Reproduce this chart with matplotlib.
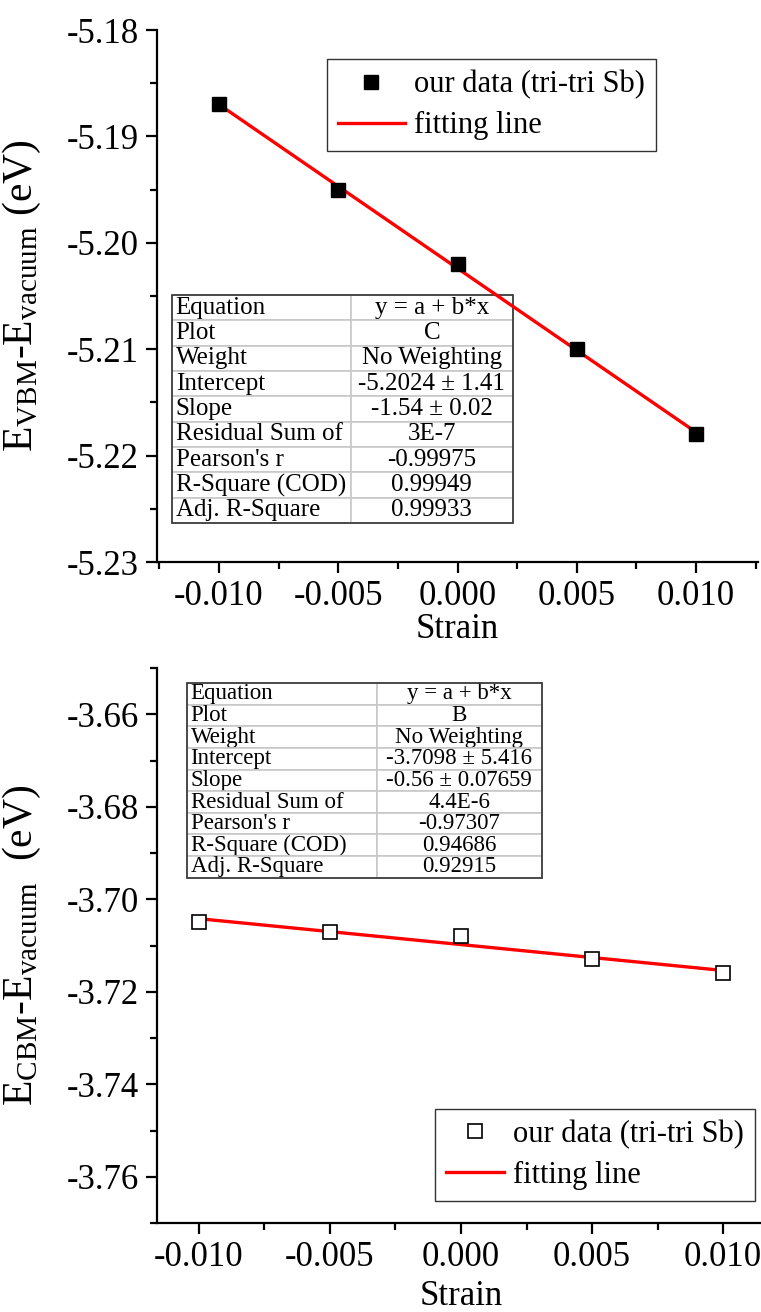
import numpy as np
import matplotlib
matplotlib.use("Agg")
import matplotlib.pyplot as plt
from matplotlib.ticker import MultipleLocator, FormatStrFormatter

plt.rcParams["font.family"] = ["Liberation Serif", "DejaVu Serif"]
plt.rcParams["mathtext.fontset"] = "custom"
plt.rcParams["mathtext.rm"] = "Liberation Serif"
plt.rcParams["mathtext.it"] = "Liberation Serif:italic"

strain = [-0.010, -0.005, 0.000, 0.005, 0.010]
vbm = [-5.187, -5.195, -5.202, -5.210, -5.218]
cbm = [-3.705, -3.707, -3.708, -3.713, -3.716]

stat_names = ["Equation", "Plot", "Weight", "Intercept", "Slope",
              "Residual Sum of", "Pearson's r", "R-Square (COD)", "Adj. R-Square"]
vbm_stats = ["y = a + b*x", "C", "No Weighting", "-5.2024 \u00b1 1.41",
             "-1.54 \u00b1 0.02", "3E-7", "-0.99975", "0.99949", "0.99933"]
cbm_stats = ["y = a + b*x", "B", "No Weighting", "-3.7098 \u00b1 5.416",
             "-0.56 \u00b1 0.07659", "4.4E-6", "-0.97307", "0.94686", "0.92915"]

W, H = 761, 1312
fig = plt.figure(figsize=(W / 100, H / 100), dpi=100)


def px_axes(x0, y0, x1, y1):
    return fig.add_axes([x0 / W, 1 - y1 / H, (x1 - x0) / W, (y1 - y0) / H])


ax1 = px_axes(157, 30, 758, 562)
ax2 = px_axes(157, 668, 765, 1223)


def style(ax, ylim, ymaj, xlim, xpad):
    for s in ["top", "right"]:
        ax.spines[s].set_visible(False)
    for s in ["left", "bottom"]:
        ax.spines[s].set_linewidth(1.6)
    ax.set_xlim(*xlim)
    ax.set_ylim(*ylim)
    ax.xaxis.set_major_locator(MultipleLocator(0.005))
    ax.xaxis.set_minor_locator(MultipleLocator(0.0025))
    ax.yaxis.set_major_locator(MultipleLocator(ymaj))
    ax.yaxis.set_minor_locator(MultipleLocator(ymaj / 2))
    ax.xaxis.set_major_formatter(FormatStrFormatter("%.3f"))
    ax.tick_params(which="major", direction="out", length=8, width=1.6,
                   labelsize=25, pad=5)
    ax.tick_params(which="minor", direction="out", length=5, width=1.6)
    ax.set_xlabel("Strain", fontsize=25, labelpad=xpad)


def stats_table(ax, values, bbox, c0, fs):
    rows = [[n, v] for n, v in zip(stat_names, values)]
    tab = ax.table(cellText=rows, colWidths=[c0, 1 - c0], bbox=bbox,
                   cellLoc="center", zorder=1)
    tab.auto_set_font_size(False)
    tab.set_fontsize(fs)
    for (r, c), cell in tab.get_celld().items():
        cell.set_edgecolor("#c8c8c8")
        cell.set_linewidth(1.2)
        cell.set_facecolor("white")
        if c == 0:
            cell.get_text().set_ha("left")
            cell.PAD = 0.02
    x0, y0, w, h = bbox
    ax.add_patch(plt.Rectangle((x0, y0), w, h, transform=ax.transAxes,
                               fill=False, ec="#333333", lw=1.2, zorder=3))


def legend(ax, anchor, loc, hl):
    leg = ax.legend(loc=loc, bbox_to_anchor=anchor, fontsize=22,
                    frameon=True, fancybox=False, edgecolor="black",
                    borderaxespad=0, handlelength=hl, handletextpad=0.3,
                    borderpad=0.35, labelspacing=0.4)
    leg.get_frame().set_linewidth(1.0)
    return leg


# top panel: VBM
style(ax1, (-5.23, -5.18), 0.01, (-0.0126, 0.0126), 0)
ax1.yaxis.set_major_formatter(FormatStrFormatter("%.2f"))
b1, a1 = np.polyfit(strain, vbm, 1)
xs = np.array([strain[0], strain[-1]])
stats_table(ax1, vbm_stats, [0.025, 0.073, 0.567, 0.429], 0.525, 18)
ax1.plot(strain, vbm, "s", color="black", ms=10.5, zorder=4,
         label="our data (tri-tri Sb)")
ax1.plot(xs, a1 + b1 * xs, color="red", lw=2.4, zorder=3, label="fitting line")
ax1.set_ylabel(r"E$_{\mathrm{VBM}}$-E$_{\mathrm{vacuum}}$ (eV)", fontsize=30)
ax1.yaxis.set_label_coords(-0.19, 0.5)
legend(ax1, (0.283, 0.945), "upper left", 2.2)

# bottom panel: CBM
style(ax2, (-3.77, -3.65), 0.02, (-0.0116, 0.0116), 4)
ax2.yaxis.set_major_formatter(FormatStrFormatter("%.2f"))
b2, a2 = np.polyfit(strain, cbm, 1)
stats_table(ax2, cbm_stats, [0.049, 0.622, 0.584, 0.351], 0.535, 16.5)
ax2.plot(strain, cbm, "s", mfc="white", mec="black", mew=1.2, ms=9.5, zorder=4,
         label="our data (tri-tri Sb)")
ax2.plot(xs, a2 + b2 * xs, color="red", lw=2.4, zorder=3, label="fitting line")
ax2.set_ylabel(r"E$_{\mathrm{CBM}}$-E$_{\mathrm{vacuum}}$  (eV)", fontsize=30)
ax2.yaxis.set_label_coords(-0.188, 0.5)
legend(ax2, (0.458, 0.04), "lower left", 1.9)

plt.savefig("out.png", dpi=100)
